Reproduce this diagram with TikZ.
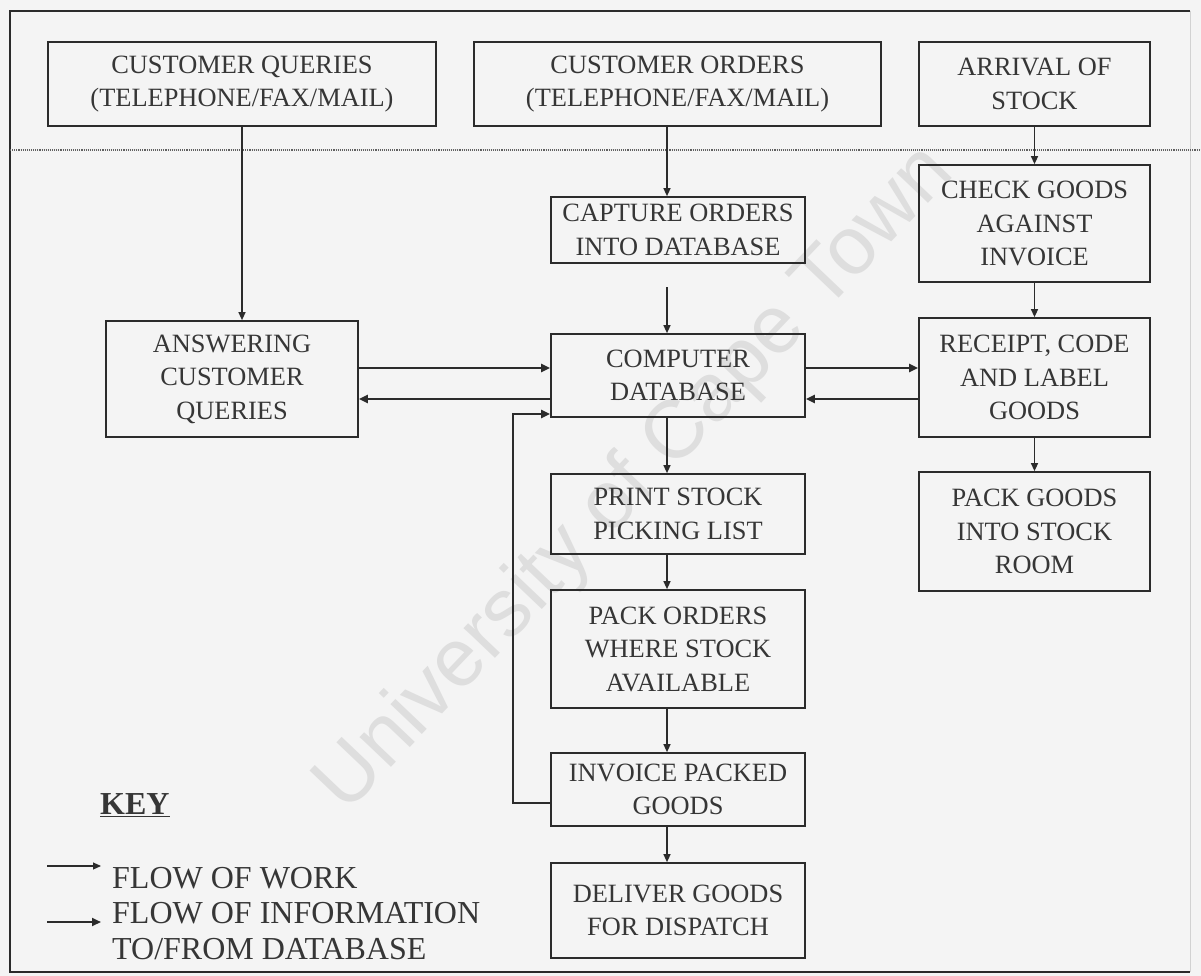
\documentclass[tikz,border=0pt]{standalone}
\usepackage{fontspec}
\setmainfont{Liberation Serif}
\newfontfamily\wmfont{Liberation Sans}
\usetikzlibrary{arrows.meta}

\definecolor{ink}{HTML}{2B2B2B}
\definecolor{txt}{HTML}{363636}
\definecolor{paper}{HTML}{F4F4F4}
\definecolor{wmfill}{HTML}{DEDEDE}

\tikzset{
  box/.style={draw=ink, line width=1.7pt, text=txt, align=center,
    font=\fontsize{26.4}{33.5}\selectfont, inner sep=0pt},
  work/.style={draw=ink, line width=1.3pt, -{Triangle[length=8pt,width=7pt]}},
  info/.style={draw=ink, line width=2pt, -{Triangle[length=9pt,width=8pt]}},
  keytext/.style={text=txt, anchor=west, align=left, inner sep=0pt,
    font=\fontsize{32}{36}\selectfont},
}

\begin{document}
\begin{tikzpicture}[x=1pt, y=-1pt]
  % page and frame
  \fill[paper] (0,0) rectangle (1201,976);
  \useasboundingbox (0,0) rectangle (1201,976);

  % watermark, set behind the chart
  \node[rotate=46.4, inner sep=0pt, text=wmfill,
        font=\wmfont\fontsize{82}{82}\selectfont] (wm) at (636,480)
    {University of Cape Town};

  \draw[ink, line width=1.8pt] (1190,11) -- (10,11) -- (10,972) -- (1190,972);
  \draw[gray!35, line width=1pt] (1190,11) -- (1190,972);
  \draw[ink!75, line width=1.1pt, densely dotted] (10,150) -- (1201,150);

  % process boxes
  \node[box, minimum width=388pt, minimum height=84pt] (cq)  at (242,84)     {CUSTOMER QUERIES\\(TELEPHONE/FAX/MAIL)};
  \node[box, minimum width=407pt, minimum height=84pt] (co)  at (677.5,84)   {CUSTOMER ORDERS\\(TELEPHONE/FAX/MAIL)};
  \node[box, minimum width=231pt, minimum height=84pt] (arr) at (1034.5,84)  {ARRIVAL OF\\STOCK};
  \node[box, minimum width=254pt, minimum height=66pt] (cap) at (678,230)    {CAPTURE ORDERS\\INTO DATABASE};
  \node[box, minimum width=231pt, minimum height=117pt] (chk) at (1034.5,223.5) {CHECK GOODS\\AGAINST\\INVOICE};
  \node[box, minimum width=252pt, minimum height=116pt] (ans) at (232,379)   {ANSWERING\\CUSTOMER\\QUERIES};
  \node[box, minimum width=254pt, minimum height=83pt] (db)  at (678,375.5)  {COMPUTER\\DATABASE};
  \node[box, minimum width=231pt, minimum height=119pt] (rcp) at (1034.5,377.5) {RECEIPT, CODE\\AND LABEL\\GOODS};
  \node[box, minimum width=254pt, minimum height=80pt] (prt) at (678,514)    {PRINT STOCK\\PICKING LIST};
  \node[box, minimum width=231pt, minimum height=119pt] (pgs) at (1034.5,531.5) {PACK GOODS\\INTO STOCK\\ROOM};
  \node[box, minimum width=254pt, minimum height=118pt] (pko) at (678,649)   {PACK ORDERS\\WHERE STOCK\\AVAILABLE};
  \node[box, minimum width=254pt, minimum height=73pt] (inv) at (678,789.5)  {INVOICE PACKED\\GOODS};
  \node[box, minimum width=254pt, minimum height=95pt] (dlv) at (678,910.5)  {DELIVER GOODS\\FOR DISPATCH};

  % helper coordinates
  \coordinate (colx) at (667,0);
  \coordinate (capgap) at (667,287);
  \coordinate (rowA) at (0,368);
  \coordinate (rowB) at (0,399);
  \coordinate (fbk) at (513,600);

  % flow of work
  \draw[work] (cq.south) -- (cq.south |- ans.north);
  \draw[work] (co.south -| colx) -- (cap.north -| colx);
  \draw[work] (capgap) -- (db.north -| capgap);
  \draw[work] (db.south -| colx) -- (prt.north -| colx);
  \draw[work] (prt.south -| colx) -- (pko.north -| colx);
  \draw[work] (pko.south -| colx) -- (inv.north -| colx);
  \draw[work] (inv.south -| colx) -- (dlv.north -| colx);
  \draw[work] (arr.south) -- (chk.north);
  \draw[work] (chk.south) -- (rcp.north);
  \draw[work] (rcp.south) -- (pgs.north);

  % flow of information to/from the database
  \draw[info] (ans.east |- rowA) -- (db.west |- rowA);
  \draw[info] (db.west |- rowB) -- (ans.east |- rowB);
  \draw[info] (db.east |- rowA) -- (rcp.west |- rowA);
  \draw[info] (rcp.west |- rowB) -- (db.east |- rowB);
  \draw[info] ([yshift=-13.5pt]inv.west) -| (fbk) |- ([yshift=-38.5pt]db.west);

  % key
  \node[keytext, font=\fontsize{32}{36}\selectfont\bfseries] (key) at (100,805) {\underline{KEY}};
  \coordinate (kw1) at (47,866);
  \coordinate (kw2) at (101,866);
  \draw[work, line width=1.1pt] (kw1) -- (kw2);
  \node[keytext] (kwork) at (112,878) {FLOW OF WORK};
  \coordinate (ki1) at (47,922);
  \coordinate (ki2) at (101,922);
  \draw[info] (ki1) -- (ki2);
  \node[keytext] (kinfo) at (112,931) {FLOW OF INFORMATION\\TO/FROM DATABASE};
\end{tikzpicture}
\end{document}
